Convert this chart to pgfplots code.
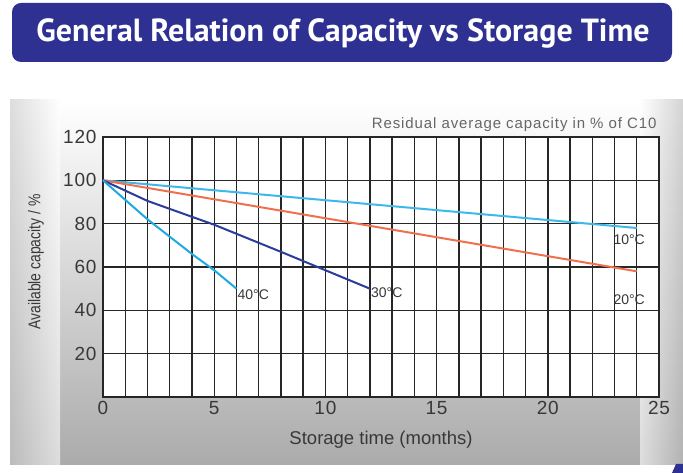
\documentclass[border=0pt]{standalone}
\usepackage{pgfplots}
\pgfplotsset{compat=1.18}
\usepackage{fontspec}
\setmainfont{Liberation Sans}
\newfontfamily\titlefont{PT Sans}
\definecolor{banner}{HTML}{2E3192}
\definecolor{tenC}{HTML}{3DB8E8}
\definecolor{twentyC}{HTML}{F26F4E}
\definecolor{thirtyC}{HTML}{2B3D9A}
\definecolor{fortyC}{HTML}{1FA9E1}
\definecolor{txt}{HTML}{383838}
\begin{document}
\begin{tikzpicture}[x=1pt,y=1pt]
% canvas 683 x 473
\path (0,0) rectangle (683,473);
% grey panel
\shade[top color=white, bottom color=black!33] (10,8) rectangle (683,373);
\shade[left color=white, right color=black!28, opacity=0.6] (640,8) rectangle (683,373);
\shade[right color=white, left color=black!22, opacity=0.6] (10,8) rectangle (60,373);
% title banner
\fill[banner, rounded corners=9pt] (12,411) rectangle (672,470);
\node[text=white, font=\titlefont\bfseries\fontsize{32}{32}\selectfont] at (343,440) {General Relation of Capacity vs Storage Time};
% corner mark
\fill[banner] (672,0) -- (683,0) -- (683,9) -- (676,9) -- cycle;
% note
\node[anchor=south east, text=black!60, font=\fontsize{15}{15}\selectfont\addfontfeature{LetterSpace=6}] at (660,338) {Residual average capacity in \% of C10};
% y label
\node[rotate=90, text=txt, font=\fontsize{17}{17}\selectfont, xscale=0.82] at (36,211) {Available capacity / \%};
\begin{axis}[
    at={(103pt,76pt)}, anchor=south west,
    scale only axis, width=556pt, height=260pt,
    xmin=0, xmax=25, ymin=0, ymax=120,
    xtick={0,5,...,25}, ytick={20,40,...,120},
    minor x tick num=4,
    grid=both,
    major grid style={black!85, line width=1.4pt},
    minor grid style={black!85, line width=1.4pt},
    axis line style={black!85, line width=1.4pt},
    major tick length=0pt, minor tick length=0pt,
    axis background/.style={fill=white},
    /pgf/number format/assume math mode=true,
    ticklabel style={text=txt, font=\fontsize{19}{19}\selectfont\addfontfeature{LetterSpace=4}},
    yticklabel style={xshift=-3pt},
    xticklabel style={yshift=-1pt},
    xlabel={Storage time (months)},
    xlabel style={text=txt, font=\fontsize{18.5}{18.5}\selectfont, yshift=-9pt},
    clip=false,
]
\addplot[tenC, line width=2pt] coordinates {(0,100) (6,94.5) (12,89) (18,83.5) (24,78)};
\addplot[twentyC, line width=2pt] coordinates {(0,100) (6,89.5) (12,79) (18,68.5) (24,58)};
\addplot[thirtyC, line width=2pt] coordinates {(0,100) (2,90.5) (5,79.5) (8,67) (10,58.5) (12,50)};
\addplot[fortyC, line width=2pt] coordinates {(0,100) (2,82) (4,66) (5,58.5) (6,50)};
\node[anchor=west, inner sep=1pt, text=txt, font=\fontsize{14}{14}\selectfont] at (axis cs:6,47) {40°C};
\node[anchor=west, inner sep=1pt, text=txt, font=\fontsize{14}{14}\selectfont] at (axis cs:12,48) {30°C};
\node[anchor=west, inner sep=1pt, text=txt, font=\fontsize{14}{14}\selectfont] at (axis cs:22.9,72.5) {10°C};
\node[anchor=west, inner sep=1pt, text=txt, font=\fontsize{14}{14}\selectfont] at (axis cs:22.9,45) {20°C};
\end{axis}
\end{tikzpicture}
\end{document}
